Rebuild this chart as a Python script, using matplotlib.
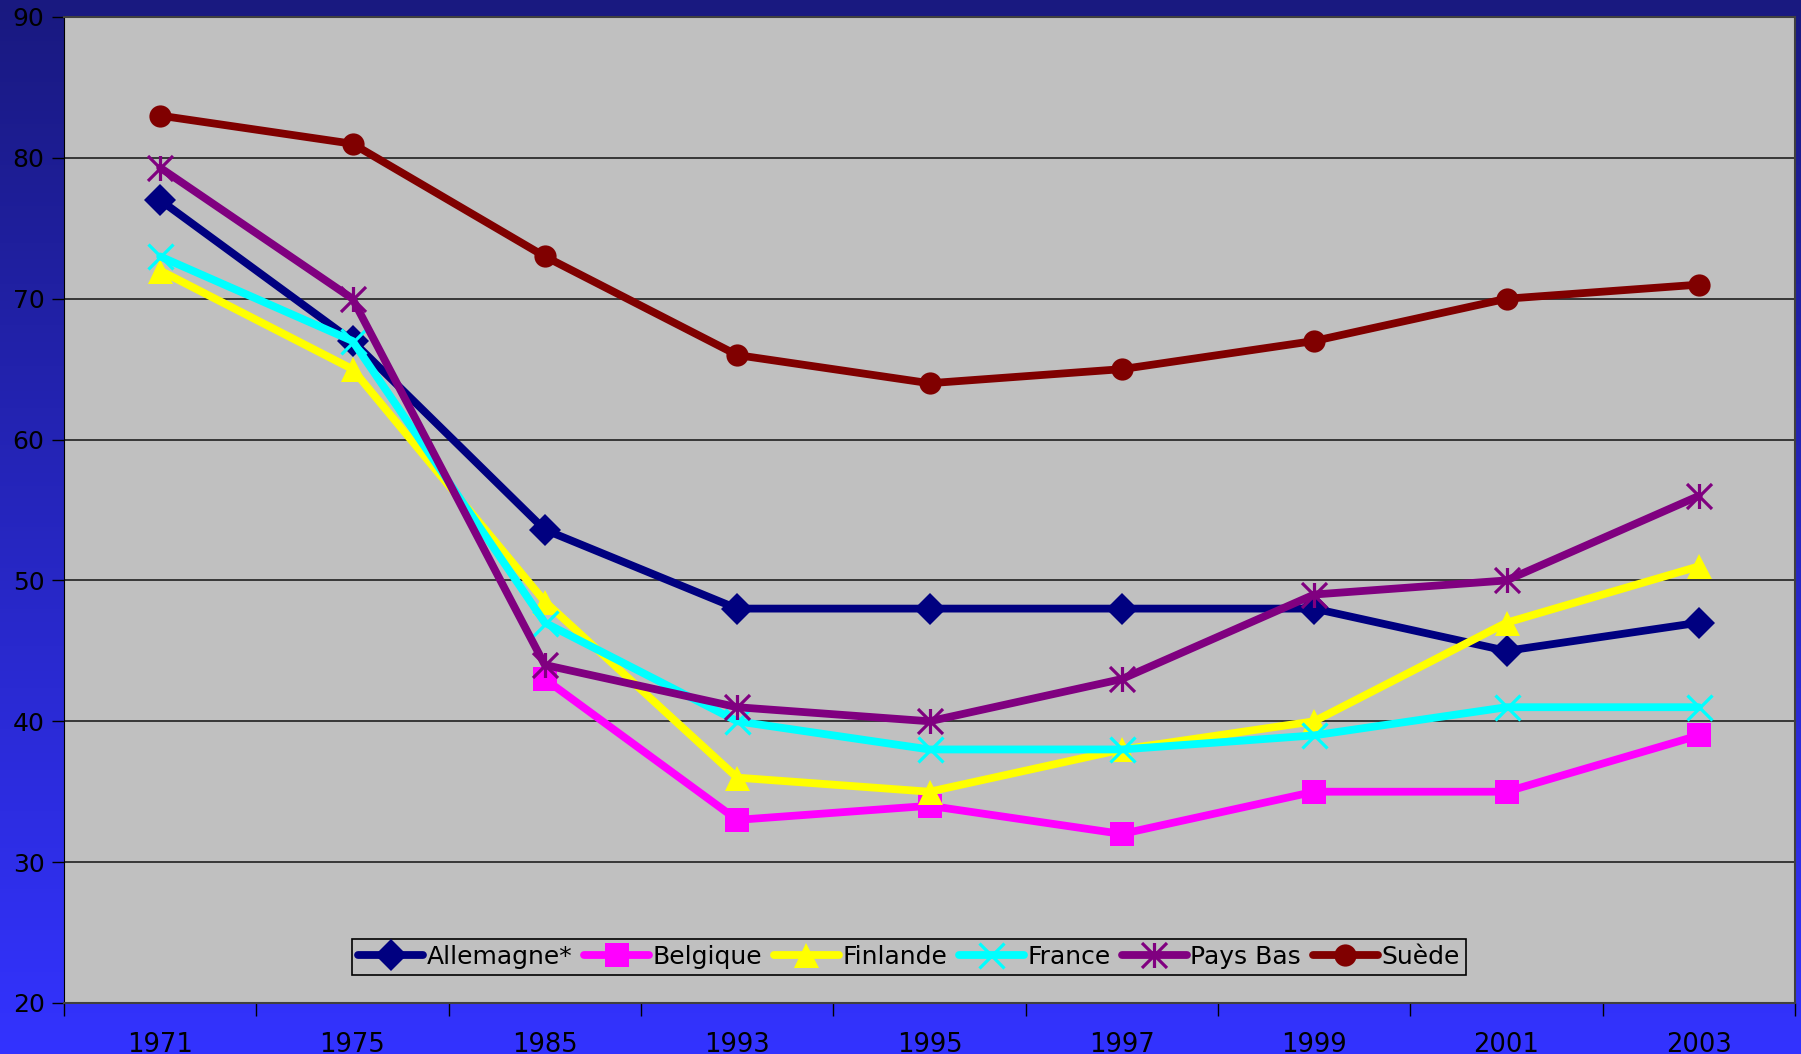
import numpy as np
import matplotlib
matplotlib.use("Agg")
import matplotlib.pyplot as plt
from matplotlib.path import Path

# ============ DATA ============
years = ["1971", "1975", "1985", "1993", "1995", "1997", "1999", "2001", "2003"]
allemagne = [77, 67, 53.6, 48, 48, 48, 48, 45, 47]
belgique = [np.nan, np.nan, 43, 33, 34, 32, 35, 35, 39]
finlande = [72, 65, 48.5, 36, 35, 38, 40, 47, 51]
france = [73, 67, 47, 40, 38, 38, 39, 41, 41]
pays_bas = [79.3, 70, 44, 41, 40, 43, 49, 50, 56]
suede = [83, 81, 73, 66, 64, 65, 67, 70, 71]
# ==============================

# Excel-style star: an x with a vertical bar
star = Path([(-1, -1), (1, 1), (-1, 1), (1, -1), (0, -1), (0, 1)],
            [Path.MOVETO, Path.LINETO, Path.MOVETO, Path.LINETO, Path.MOVETO, Path.LINETO])

series = [
    ("Allemagne*", allemagne, "#000080", "D", 16, None),
    ("Belgique", belgique, "#FF00FF", "s", 17, None),
    ("Finlande", finlande, "#FFFF00", "^", 18, None),
    ("France", france, "#00FFFF", "x", 18, 2.3),
    ("Pays Bas", pays_bas, "#800080", star, 18, 2.3),
    ("Suède", suede, "#800000", "o", 16, None),
]

fig = plt.figure(figsize=(18.01, 10.54), dpi=100)

# blue gradient background
bg = fig.add_axes([0, 0, 1, 1], zorder=-10)
top = np.array([0x19, 0x19, 0x80]) / 255
bot = np.array([0x33, 0x33, 0xFF]) / 255
t = np.linspace(0, 1, 256)[:, None]
grad = top[None, :] * (1 - t) + bot[None, :] * t
bg.imshow(grad[:, None, :], aspect="auto", extent=[0, 1, 0, 1])
bg.set_axis_off()

ax = fig.add_axes([64 / 1801, 1 - 1003 / 1054, (1795 - 64) / 1801, (1003 - 17) / 1054])
ax.set_facecolor("#C0C0C0")

x = np.arange(len(years))
for name, vals, col, mk, ms, mew in series:
    kw = dict(color=col, lw=5.6, marker=mk, markersize=ms, label=name,
              solid_capstyle="round", solid_joinstyle="round")
    if mew is not None:
        kw.update(markeredgewidth=mew, markeredgecolor=col)
    else:
        kw.update(markeredgewidth=0)
    ax.plot(x, vals, **kw)

ax.set_xlim(-0.5, len(years) - 0.5)
ax.set_ylim(20, 90)
ax.set_yticks(range(20, 91, 10))
ax.yaxis.grid(True, color="#202020", lw=1.2)
ax.set_axisbelow(True)

ax.set_xticks(x)
ax.set_xticklabels(years)
ax.set_xticks(np.arange(-0.5, len(years), 1), minor=True)
ax.tick_params(axis="x", which="major", length=0, labelsize=18.5, pad=21)
ax.tick_params(axis="x", which="minor", length=9, width=1, direction="out", color="black")
ax.tick_params(axis="y", length=9, width=1, labelsize=18, pad=5, color="black")

for s in ["top", "right"]:
    ax.spines[s].set_color("#404040")
    ax.spines[s].set_linewidth(1.5)
ax.spines["left"].set_color("black")
ax.spines["bottom"].set_color("#404040")
ax.spines["bottom"].set_linewidth(1.5)

leg = ax.legend(loc="center", bbox_to_anchor=(909 / 1801, 1 - 957 / 1054),
                bbox_transform=fig.transFigure, ncol=6, fontsize=18,
                handlelength=2.6, handletextpad=0.15, columnspacing=0.45,
                borderpad=0.25, borderaxespad=0, fancybox=False, frameon=True)
leg.get_frame().set_facecolor("#C0C0C0")
leg.get_frame().set_edgecolor("black")
leg.get_frame().set_linewidth(1.2)
leg.get_frame().set_alpha(1)

fig.savefig("out.png", dpi=100)
